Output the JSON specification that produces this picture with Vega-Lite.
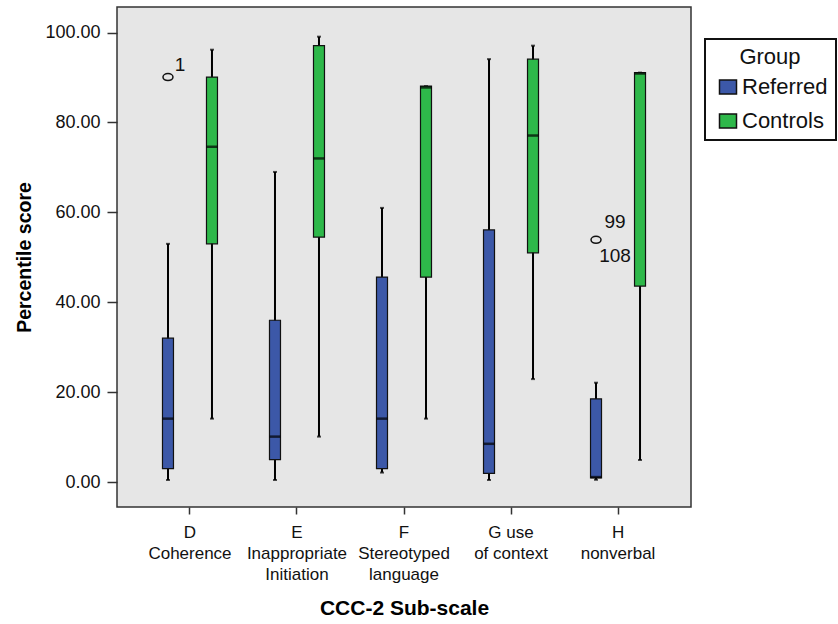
{
  "$schema": "https://vega.github.io/schema/vega-lite/v6.json",
  "width": 574,
  "height": 500,
  "autosize": {"type": "none"},
  "padding": {"left": 117, "top": 7, "right": 147, "bottom": 117},
  "background": "white",
  "config": {
    "font": "Liberation Sans",
    "view": {"fill": "#e6e6e6", "stroke": "#333333", "strokeWidth": 1.5},
    "axis": {"grid": false, "domain": false, "tickColor": "#333333", "tickWidth": 1.5, "labelColor": "#111111", "titleColor": "#000000", "labelFont": "Liberation Sans", "titleFont": "Liberation Sans"},
    "legend": {"strokeWidth": 2}
  },
  "datasets": {
    "boxes": [
      {"subscale": "D|Coherence", "group": "Referred", "lo": 0.45, "q1": 3.0, "med": 14.1, "q3": 32.0, "hi": 53.0},
      {"subscale": "D|Coherence", "group": "Controls", "lo": 14.1, "q1": 53.0, "med": 74.6, "q3": 90.1, "hi": 96.2},
      {"subscale": "E|Inappropriate|Initiation", "group": "Referred", "lo": 0.45, "q1": 5.0, "med": 10.1, "q3": 36.0, "hi": 69.0},
      {"subscale": "E|Inappropriate|Initiation", "group": "Controls", "lo": 10.1, "q1": 54.5, "med": 72.0, "q3": 97.1, "hi": 99.1},
      {"subscale": "F|Stereotyped|language", "group": "Referred", "lo": 2.1, "q1": 3.0, "med": 14.1, "q3": 45.6, "hi": 61.0},
      {"subscale": "F|Stereotyped|language", "group": "Controls", "lo": 14.1, "q1": 45.6, "med": 87.8, "q3": 88.1, "hi": 88.1},
      {"subscale": "G use|of context", "group": "Referred", "lo": 0.45, "q1": 1.9, "med": 8.5, "q3": 56.1, "hi": 94.1},
      {"subscale": "G use|of context", "group": "Controls", "lo": 22.9, "q1": 51.0, "med": 77.1, "q3": 94.1, "hi": 97.1},
      {"subscale": "H|nonverbal", "group": "Referred", "lo": 0.5, "q1": 0.9, "med": 1.1, "q3": 18.5, "hi": 22.1},
      {"subscale": "H|nonverbal", "group": "Controls", "lo": 4.9, "q1": 43.6, "med": 90.9, "q3": 91.1, "hi": 91.1}
    ],
    "outliers": [
      {"subscale": "D|Coherence", "group": "Referred", "value": 90.1},
      {"subscale": "H|nonverbal", "group": "Referred", "value": 53.9}
    ],
    "labels": [
      {"subscale": "D|Coherence", "group": "Referred", "label": "1", "pos": 92.8},
      {"subscale": "H|nonverbal", "group": "Referred", "label": "99", "pos": 57.9},
      {"subscale": "H|nonverbal", "group": "Referred", "label": "108", "pos": 50.3}
    ]
  },
  "encoding": {
    "x": {
      "field": "subscale",
      "type": "nominal",
      "scale": {"domain": ["D|Coherence", "E|Inappropriate|Initiation", "F|Stereotyped|language", "G use|of context", "H|nonverbal"], "paddingInner": 0, "paddingOuter": 0.182},
      "axis": {"title": "CCC-2 Sub-scale", "labelAngle": 0, "labelExpr": "split(datum.label, '|')", "labelFontSize": 17, "labelLineHeight": 21, "tickSize": 7, "labelPadding": 10, "labelBaseline": "top", "titleFontSize": 21, "titleFontWeight": "bold", "titlePadding": 15}
    },
    "xOffset": {
      "field": "group",
      "type": "nominal",
      "scale": {"domain": ["Referred", "Controls"], "paddingInner": 0, "paddingOuter": 0.216}
    }
  },
  "layer": [
    {
      "data": {"name": "boxes"},
      "mark": {"type": "rule", "color": "black", "strokeWidth": 2},
      "encoding": {
        "y": {
          "field": "lo",
          "type": "quantitative",
          "scale": {"domain": [-5.56, 105.7], "nice": false, "zero": false},
          "axis": {"title": "Percentile score", "values": [0, 20, 40, 60, 80, 100], "format": ".2f", "labelFontSize": 18, "tickSize": 10, "labelPadding": 7, "titleFontSize": 19.5, "titleFontWeight": "bold", "titlePadding": 10}
        },
        "y2": {"field": "hi"}
      }
    },
    {
      "data": {"name": "boxes"},
      "mark": {"type": "tick", "color": "black", "size": 4, "thickness": 2},
      "encoding": {"y": {"field": "lo", "type": "quantitative"}}
    },
    {
      "data": {"name": "boxes"},
      "mark": {"type": "tick", "color": "black", "size": 4, "thickness": 2},
      "encoding": {"y": {"field": "hi", "type": "quantitative"}}
    },
    {
      "data": {"name": "boxes"},
      "mark": {"type": "bar", "size": 11, "stroke": "#111111", "strokeWidth": 1.2},
      "encoding": {
        "y": {"field": "q1", "type": "quantitative"},
        "y2": {"field": "q3"},
        "fill": {
          "field": "group",
          "type": "nominal",
          "scale": {"domain": ["Referred", "Controls"], "range": ["#3c58a8", "#2eb84a"]},
          "legend": {
            "title": "Group",
            "orient": "none",
            "legendX": 588,
            "legendY": 32,
            "titleFontSize": 22,
            "titleFontWeight": "normal",
            "titleAnchor": "middle",
            "titleColor": "#111111",
            "titlePadding": 7,
            "labelFontSize": 22,
            "labelColor": "#111111",
            "labelOffset": 3,
            "symbolType": "M-1,-0.82H1V0.82H-1Z",
            "symbolSize": 289,
            "symbolStrokeColor": "#111111",
            "symbolStrokeWidth": 1.5,
            "symbolOffset": 4,
            "padding": 8,
            "rowPadding": 12,
            "strokeColor": "#111111",
            "fillColor": "white"
          }
        }
      }
    },
    {
      "data": {"name": "boxes"},
      "mark": {"type": "tick", "color": "black", "size": 11, "thickness": 2.5},
      "encoding": {"y": {"field": "med", "type": "quantitative"}}
    },
    {
      "data": {"name": "outliers"},
      "mark": {"type": "point", "shape": "M-1,0A1,0.7,0,1,1,1,0A1,0.7,0,1,1,-1,0Z", "size": 100, "filled": false, "stroke": "#111111", "strokeWidth": 1.5, "opacity": 1},
      "encoding": {"y": {"field": "value", "type": "quantitative"}}
    },
    {
      "data": {"name": "labels"},
      "transform": [{"filter": "datum.label == '1'"}],
      "mark": {"type": "text", "fontSize": 19, "color": "#111111", "align": "center", "baseline": "middle", "dx": 12},
      "encoding": {"y": {"field": "pos", "type": "quantitative"}, "text": {"field": "label"}}
    },
    {
      "data": {"name": "labels"},
      "transform": [{"filter": "datum.label != '1'"}],
      "mark": {"type": "text", "fontSize": 19, "color": "#111111", "align": "center", "baseline": "middle", "dx": 19},
      "encoding": {"y": {"field": "pos", "type": "quantitative"}, "text": {"field": "label"}}
    }
  ]
}
